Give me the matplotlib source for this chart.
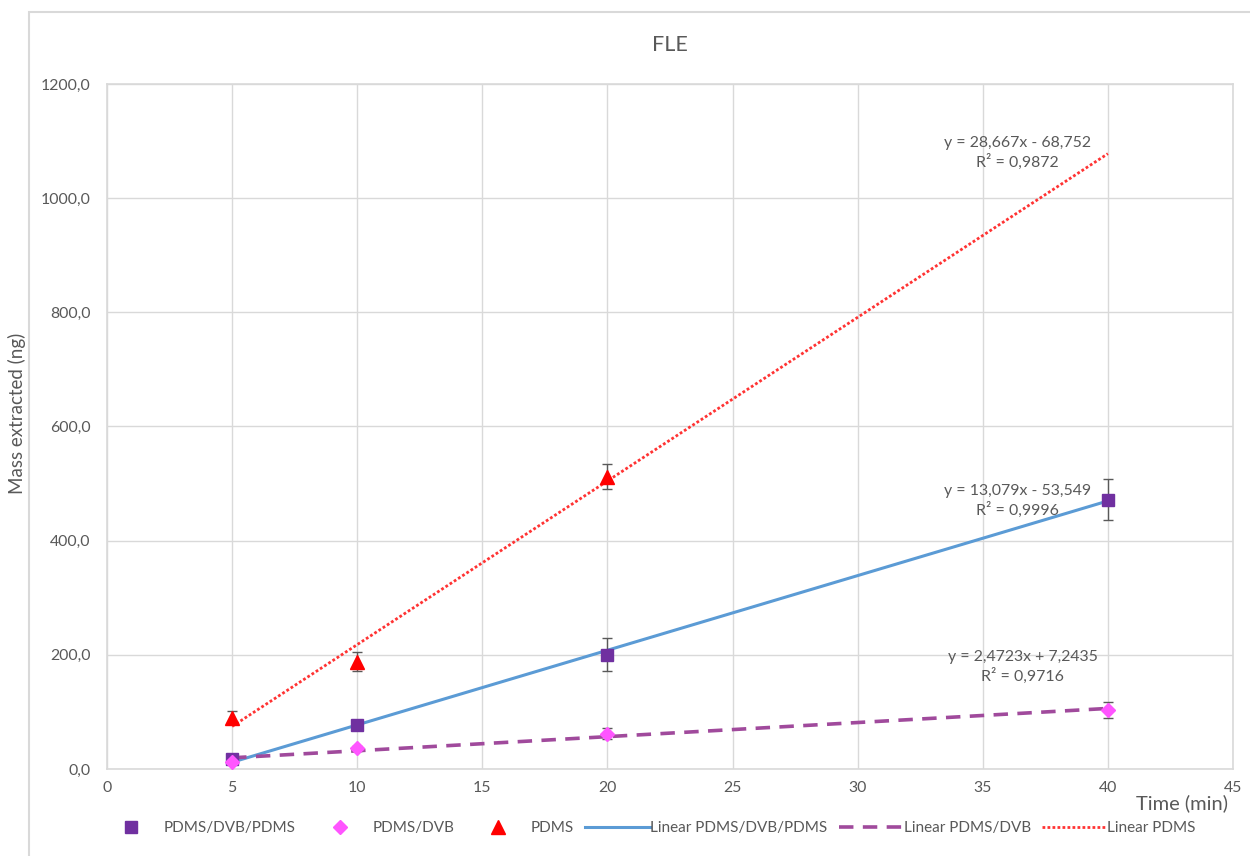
import numpy as np
import matplotlib.pyplot as plt
from matplotlib.patches import Rectangle

plt.rcParams['font.family'] = ['Lato', 'DejaVu Sans']

# extraction time (min)
time_min = [5, 10, 20, 40]
time_pdms = [5, 10, 20]

# mass extracted (ng) with standard deviations
mass_tri = [17, 77, 200, 472]
err_tri = [5, 6, 29, 36]
mass_dvb = [12, 36, 62, 103]
err_dvb = [4, 5, 10, 14]
mass_pdms = [90, 188, 512]
err_pdms = [11, 17, 22]

# linear trendline coefficients (slope, intercept, r2)
fit_tri = (13.079, -53.549, 0.9996)
fit_dvb = (2.4723, 7.2435, 0.9716)
fit_pdms = (28.667, -68.752, 0.9872)

series_names = ['PDMS/DVB/PDMS', 'PDMS/DVB', 'PDMS']

GRAY = '#595959'
GRID = '#d9d9d9'


def comma(v, dec):
    return f'{v:.{dec}f}'.replace('.', ',')


def eq_text(fit):
    m, b, r2 = fit
    sign = '+' if b >= 0 else '-'
    m_dec = len(f'{m}'.split('.')[1])
    b_dec = len(f'{abs(b)}'.split('.')[1])
    return f'y = {comma(m, m_dec)}x {sign} {comma(abs(b), b_dec)}\nR² = {comma(r2, 4)}'


fig = plt.figure(figsize=(12.5, 8.56), dpi=100)
ax = fig.add_axes([107/1250, 1-769/856, 1126/1250, 685/856])

# chart area border
fig.patches.append(Rectangle((29/1250, -0.1), 1.1, 1.1-12/856, transform=fig.transFigure,
                             fill=False, edgecolor=GRID, lw=1.5, zorder=0))

xs = np.array([5, 40])
m, b, _ = fit_tri
l_tri, = ax.plot(xs, m*xs+b, color='#5B9BD5', lw=2.2, zorder=3)
m, b, _ = fit_dvb
l_dvb, = ax.plot(xs, m*xs+b, color='#A04A9C', lw=2.6, ls=(0, (4, 2.6)), zorder=3)
m, b, _ = fit_pdms
l_pdms, = ax.plot(xs, m*xs+b, color='#FF3333', lw=2.0, ls=(0, (1, 0.8)), zorder=3)

e_tri = ax.errorbar(time_min, mass_tri, yerr=err_tri, fmt='s', color='#7030A0', ms=8,
                    ecolor=GRAY, elinewidth=1, capsize=3.5, zorder=4)
e_dvb = ax.errorbar(time_min, mass_dvb, yerr=err_dvb, fmt='D', color='#FF55FF', ms=7,
                    ecolor=GRAY, elinewidth=1, capsize=3.5, zorder=4)
e_pdms = ax.errorbar(time_pdms, mass_pdms, yerr=err_pdms, fmt='^', color='#FF0000', ms=10,
                     ecolor=GRAY, elinewidth=1, capsize=3.5, zorder=5)

# trendline equations
eq_kw = dict(ha='center', va='center', fontsize=11.4, color=GRAY, linespacing=1.25)
ax.text(36.4, 1079, eq_text(fit_pdms), **eq_kw)
ax.text(36.4, 470, eq_text(fit_tri), **eq_kw)
ax.text(36.6, 179, eq_text(fit_dvb), **eq_kw)

ax.set_xlim(0, 45)
ax.set_ylim(0, 1200)
ax.set_xticks(range(0, 46, 5))
ax.set_yticks(range(0, 1201, 200))
ax.set_yticklabels([comma(v, 1) for v in range(0, 1201, 200)])
ax.tick_params(length=0, labelsize=11.4, labelcolor=GRAY)
ax.tick_params(axis='x', pad=9)
ax.tick_params(axis='y', pad=12)
ax.grid(color=GRID, lw=1)
ax.set_axisbelow(True)
for s in ax.spines.values():
    s.set_color(GRID)
    s.set_linewidth(1.2)

ax.set_title('FLE', fontsize=15.5, color=GRAY, pad=24)
ax.set_xlabel('Time (min)', fontsize=14.5, color=GRAY, ha='right', va='center')
ax.xaxis.set_label_coords(1121/1126, -34/685)
ax.set_ylabel('Mass extracted (ng)', fontsize=13.5, color=GRAY, va='center',
              bbox=dict(facecolor='white', edgecolor='none', pad=1))
ax.yaxis.set_label_coords(-90/1126, 356/685)

# legend markers without the error bars
handles = [e_tri[0], e_dvb[0], e_pdms[0], l_tri, l_dvb, l_pdms]
labels = series_names + ['Linear ' + n for n in series_names]
ax.legend(handles, labels, loc='center', bbox_to_anchor=(0.48, -(828-769)/685), ncol=6,
          frameon=False, fontsize=11, handlelength=4.2, handletextpad=0.05,
          columnspacing=0.75, labelcolor=GRAY)

fig.savefig('out.png', dpi=100)
